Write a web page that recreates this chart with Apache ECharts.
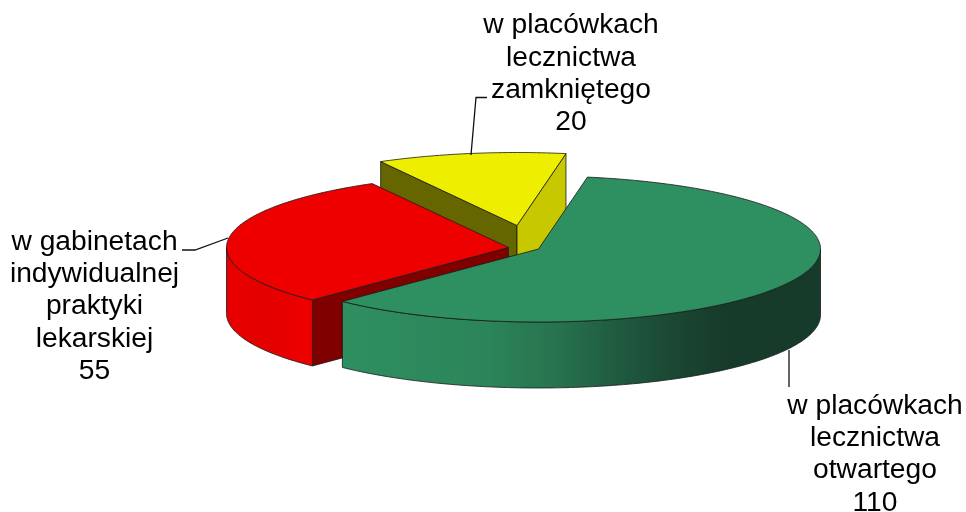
<!DOCTYPE html>
<html><head><meta charset="utf-8">
<style>html,body{margin:0;padding:0;background:#fff}#c{width:966px;height:512px}</style>
<script src="https://cdn.jsdelivr.net/npm/echarts@6/dist/echarts.min.js"></script>
</head><body><div id="c"></div>
<script>
const categories = ['w placówkach\nlecznictwa\notwartego', 'w gabinetach\nindywidualnej\npraktyki\nlekarskiej', 'w placówkach\nlecznictwa\nzamkniętego'];
const seriesValues = [110, 55, 20];

// style / layout constants
const startAngle = 10, RX = 282, RY = 73, DEPTH = 66;
const apexes = [[538.5, 249], [508.5, 247.5], [517, 225.5]];
const topColors = ['#2e8f60', '#ee0000', '#eeee00'];
const startWall = ['#1f5c40', '#800000', '#666600'];
const endWall = ['#1f5c40', '#800000', '#c8c800'];
const rimStops = [
  [[0, '#2e8f60'], [0.3, '#2c855a'], [0.45, '#27734f'], [0.55, '#215f43'], [0.7, '#1a4632'], [0.8, '#163b2a'], [1, '#163b2a']],
  [[0, '#e80000'], [0.5, '#e40000'], [1, '#ee0000']],
  [[0, '#c8c800'], [1, '#c8c800']]
];
const rimRange = [[342, 820], [227, 312], [380, 566]];
const labelPos = [[875, 454.5], [94.5, 306.5], [571, 74]];
const leaders = [
  [[789, 350], [789, 387]],
  [[182, 250], [195, 250], [228, 238]],
  [[471, 155], [476, 97.5], [487, 97.5]]
];
const EDGE = '#1a1a1a';

const total = seriesValues.reduce((a, b) => a + b, 0);
const rad = d => d * Math.PI / 180;
const rimPt = (apex, a, dy) => [apex[0] + RX * Math.sin(rad(a)), apex[1] - RY * Math.cos(rad(a)) + (dy || 0)];
function arc(apex, a0, a1, dy) {
  const pts = [], n = Math.max(2, Math.ceil(Math.abs(a1 - a0)));
  for (let i = 0; i <= n; i++) pts.push(rimPt(apex, a0 + (a1 - a0) * i / n, dy));
  return pts;
}
const spans = [];
seriesValues.reduce((acc, v) => {
  const next = acc + v / total * 360;
  spans.push([acc, next]);
  return next;
}, startAngle);

function renderItem(params, api) {
  const i = params.dataIndex;
  const value = api.value(0);
  const [s, e] = spans[i];
  const apex = apexes[i];
  const base = 10 * (seriesValues.length - i);
  const children = [];
  const poly = (points, fill, z, lw) => children.push({
    type: 'polygon', z2: base + z, shape: { points },
    style: { fill, stroke: EDGE, lineWidth: lw === undefined ? 0.8 : lw }
  });
  // cut walls
  const norm = a => ((a % 360) + 360) % 360;
  if (norm(s) > 180) {
    const r = rimPt(apex, s);
    poly([apex, r, [r[0], r[1] + DEPTH], [apex[0], apex[1] + DEPTH]], startWall[i], 1);
  }
  if (norm(e) < 180) {
    const r = rimPt(apex, e);
    poly([apex, r, [r[0], r[1] + DEPTH], [apex[0], apex[1] + DEPTH]], endWall[i], 1);
  }
  // outer rim (front half of the ellipse only)
  const a0 = Math.max(s, 90), a1 = Math.min(e, 270);
  if (a1 > a0) {
    const pts = arc(apex, a0, a1, 0).concat(arc(apex, a1, a0, DEPTH));
    poly(pts, {
      type: 'linear', global: true, x: rimRange[i][0], y: 0, x2: rimRange[i][1], y2: 0,
      colorStops: rimStops[i].map(p => ({ offset: p[0], color: p[1] }))
    }, 2);
  }
  // top surface
  poly([apex].concat(arc(apex, s, e, 0)), topColors[i], 3);
  // leader line
  children.push({
    type: 'polyline', z2: 100, shape: { points: leaders[i] },
    style: { fill: null, stroke: '#111', lineWidth: 1.3 }
  });
  // label
  children.push({
    type: 'text', z2: 101,
    style: {
      text: categories[i] + '\n' + value,
      x: labelPos[i][0], y: labelPos[i][1],
      align: 'center', verticalAlign: 'middle',
      font: '28.2px "Liberation Sans", Arial, sans-serif',
      lineHeight: 32.3, fill: '#000'
    }
  });
  return { type: 'group', children };
}

const chart = echarts.init(document.getElementById('c'), null, { renderer: 'canvas' });
chart.setOption({
  animation: false,
  backgroundColor: '#fff',
  series: [{
    type: 'custom',
    coordinateSystem: 'none',
    renderItem,
    data: seriesValues.map(v => [v])
  }]
});
</script></body></html>
